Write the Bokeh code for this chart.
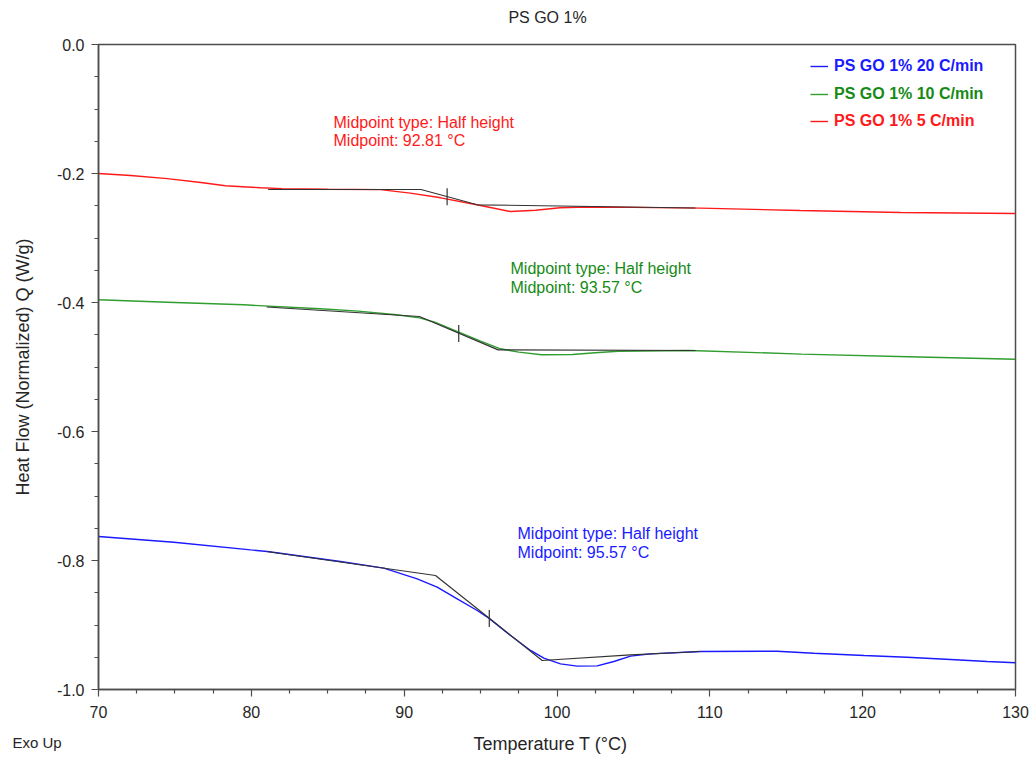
import math
from bokeh.plotting import figure
from bokeh.models import Label, Legend, LegendItem, FixedTicker, NumeralTickFormatter
from bokeh.embed import file_html
from bokeh.resources import INLINE

# ---------------- data ----------------
title_text = "PS GO 1%"
x_label = "Temperature T (°C)"
y_label = "Heat Flow (Normalized) Q (W/g)"
corner_text = "Exo Up"
series_names = ["PS GO 1% 20 C/min", "PS GO 1% 10 C/min", "PS GO 1% 5 C/min"]

# 20 C/min (blue)
t_blue = [70, 74.93, 79.95, 81.04, 85.83, 88.67, 90.85, 92.16, 93.47, 94.78, 95.54, 96.96,
          98.27, 99.14, 100.23, 101.32, 102.63, 103.72, 104.81, 106.12, 109.39, 114.4,
          116.8, 120.1, 122.9, 125.75, 128.15, 130]
q_blue = [-0.7628, -0.7716, -0.7835, -0.786, -0.8016, -0.8119, -0.8284, -0.8413, -0.8594,
          -0.8775, -0.8894, -0.9163, -0.9395, -0.9514, -0.9602, -0.9638, -0.9633, -0.9566,
          -0.9483, -0.9447, -0.9411, -0.9406, -0.9437, -0.9473, -0.9499, -0.9535, -0.9566,
          -0.9586]

# 10 C/min (green)
t_green = [70, 74.5, 79.5, 84.5, 87.0, 89.5, 91.0, 92.0, 93.5, 95.0, 96.3, 97.5, 99.0,
           101.0, 102.5, 104.0, 108.7, 116.0, 123.0, 130]
q_green = [-0.3958, -0.3995, -0.4036, -0.4098, -0.4134, -0.419, -0.4238, -0.4305, -0.445,
           -0.460, -0.4718, -0.4770, -0.4811, -0.4806, -0.4780, -0.4755, -0.4744, -0.4800,
           -0.4840, -0.4880]

# 5 C/min (red)
t_red = [70, 72.1, 74.5, 76.7, 78.3, 80.6, 82.0, 85.0, 88.45, 90.4, 92.4, 95.0, 96.96,
         98.6, 100.2, 101.9, 105.0, 109.4, 115.9, 122.5, 130]
q_red = [-0.200, -0.203, -0.208, -0.214, -0.219, -0.222, -0.2235, -0.2245, -0.2250,
         -0.2305, -0.2377, -0.2496, -0.2590, -0.2570, -0.2530, -0.2520, -0.2525, -0.2537,
         -0.2574, -0.2605, -0.2620]

# tangent constructions (black)
tan_blue_t = [81.0, 92.05, 99.03, 104.81, 109.4]
tan_blue_q = [-0.786, -0.8233, -0.955, -0.9462, -0.9411]
tan_green_t = [81.0, 91.0, 96.15, 109.06]
tan_green_q = [-0.407, -0.4217, -0.4734, -0.4744]
tan_red_t = [81.1, 91.1, 94.78, 109.06]
tan_red_q = [-0.2248, -0.2248, -0.2485, -0.2535]

# midpoints
mid_t = [95.57, 93.57, 92.81]
mid_q = [-0.890, -0.448, -0.236]
mid_type = "Midpoint type: Half height"
mid_texts = ["Midpoint: 95.57 °C", "Midpoint: 93.57 °C", "Midpoint: 92.81 °C"]

x_ticks = [70, 80, 90, 100, 110, 120, 130]
x_minor = [72.5, 75, 77.5, 82.5, 85, 87.5, 92.5, 95, 97.5, 102.5, 105, 107.5,
           112.5, 115, 117.5, 122.5, 125, 127.5]
y_ticks = [-1.0, -0.8, -0.6, -0.4, -0.2, 0.0]
y_minor = [-0.95, -0.9, -0.85, -0.75, -0.7, -0.65, -0.55, -0.5, -0.45, -0.35, -0.3,
           -0.25, -0.15, -0.1, -0.05]

# ---------------- style ----------------
FONT = "Liberation Sans"
AX = "#4d4d4d"
TXT = "#262626"
C_BLUE, C_GREEN, C_RED = "#1a1aff", "#2f9e2f", "#ff1a1a"
T_BLUE, T_GREEN, T_RED = "#1a1aff", "#168a16", "#ff1a1a"

p = figure(frame_width=917, frame_height=645, x_range=(70, 130), y_range=(-1.0, 0.0),
           output_backend="svg", toolbar_location=None,
           min_border_left=98, min_border_right=18, min_border_top=44, min_border_bottom=69)
p.background_fill_color = "white"
p.border_fill_color = "white"
p.outline_line_color = AX
p.outline_line_width = 1.5
p.xgrid.grid_line_color = None
p.ygrid.grid_line_color = None
p.title.visible = False

for ax in (p.xaxis[0], p.yaxis[0]):
    ax.axis_line_color = AX
    ax.axis_line_width = 1.5
    ax.major_tick_line_color = AX
    ax.minor_tick_line_color = AX
    ax.major_tick_line_width = 1.2
    ax.minor_tick_line_width = 1.2
    ax.major_tick_in = 0
    ax.major_tick_out = 7
    ax.minor_tick_in = 0
    ax.minor_tick_out = 4
    ax.major_label_text_font = FONT
    ax.major_label_text_font_size = "16px"
    ax.major_label_text_color = TXT
    ax.axis_label_text_font = FONT
    ax.axis_label_text_font_size = "18px"
    ax.axis_label_text_font_style = "normal"
    ax.axis_label_text_color = TXT

p.xaxis.ticker = FixedTicker(ticks=x_ticks, minor_ticks=x_minor)
p.yaxis.ticker = FixedTicker(ticks=y_ticks, minor_ticks=y_minor)
p.yaxis.formatter = NumeralTickFormatter(format="0.0")
p.xaxis.major_label_standoff = 9
p.yaxis.major_label_standoff = 7
p.yaxis.axis_label = y_label
p.yaxis.axis_label_standoff = 21

# curves
r_blue = p.line(t_blue, q_blue, line_color=C_BLUE, line_width=1.4)
r_green = p.line(t_green, q_green, line_color=C_GREEN, line_width=1.4)
r_red = p.line(t_red, q_red, line_color=C_RED, line_width=1.4)

# tangent lines
p.multi_line([tan_blue_t, tan_green_t, tan_red_t], [tan_blue_q, tan_green_q, tan_red_q],
             line_color="#333333", line_width=1.2)

# midpoint markers
p.scatter(mid_t, mid_q, marker="dash", size=17, angle=math.pi / 2,
          line_color="#333333", line_width=1.2)

# legends (one per series so each label keeps its own colour)
leg_pos = [(712, 613), (712, 585), (712, 558)]
for name, r, col, pos in zip(series_names, [r_blue, r_green, r_red], [T_BLUE, T_GREEN, T_RED], leg_pos):
    lg = Legend(items=[LegendItem(label=name, renderers=[r])], location=pos,
                glyph_width=18, glyph_height=20, label_height=20, label_standoff=6,
                padding=0, margin=0, spacing=0, border_line_color=None,
                background_fill_alpha=0, label_text_font=FONT, label_text_font_style="bold",
                label_text_font_size="16px", label_text_color=col)
    p.add_layout(lg)

def lab(text, x, y, color=TXT, size="16px", style="normal", align="left", angle=0.0, place=None):
    l = Label(x=x, y=y, x_units="screen", y_units="screen", text=text,
              text_font=FONT, text_font_size=size, text_font_style=style,
              text_color=color, text_align=align, text_baseline="middle", angle=angle)
    if place is None:
        p.add_layout(l)
    else:
        p.add_layout(l, place)

# midpoint annotations (screen offsets from frame bottom-left)
lab(mid_type, 419, 156, T_BLUE)
lab(mid_texts[0], 419, 137, T_BLUE)
lab(mid_type, 412, 421, T_GREEN)
lab(mid_texts[1], 412, 402, T_GREEN)
lab(mid_type, 235, 567, T_RED)
lab(mid_texts[2], 235, 549, T_RED)

# texts outside the frame live in side panels (not clipped)
lab(x_label, 452, -3, TXT, "18px", align="center", place="below")
lab(title_text, 449, 27, TXT, "16px", align="center", place="above")
lab(corner_text, -86, -715, TXT, "15px", place="above")

open("out.html", "w").write(file_html(p, INLINE))
